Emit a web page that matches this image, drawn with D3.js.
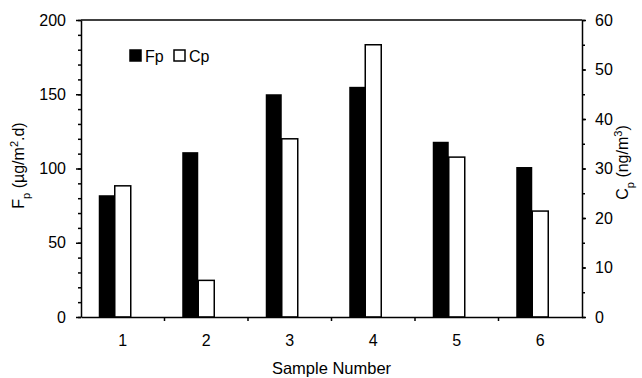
<!DOCTYPE html>
<html>
<head>
<meta charset="utf-8">
<script src="https://cdn.jsdelivr.net/npm/d3@7/dist/d3.min.js"></script>
<style>
  body { margin: 0; background: #fff; }
  svg text { font-family: "Liberation Sans", Arial, sans-serif; fill: #000; }
  .axis path, .axis line { stroke: #000; stroke-width: 1.5; }
</style>
</head>
<body>
<div id="chart"></div>
<script>
const samples = ['1', '2', '3', '4', '5', '6'];
const fpValues = [82, 111, 150, 155, 118, 101];   // µg/m2.d, left axis
const cpValues = [26.5, 7.4, 36, 55, 32.3, 21.4];  // ng/m3, right axis
const leftTicks = [0, 50, 100, 150, 200];
const rightTicks = [0, 10, 20, 30, 40, 50, 60];

const margin = { top: 20, right: 60, bottom: 61, left: 81 };
const width = 642 - margin.left - margin.right;
const height = 378 - margin.top - margin.bottom;

const svg = d3.select('#chart')
  .append('svg')
  .attr('width', 642)
  .attr('height', 378)
  .append('g')
  .attr('transform', `translate(${margin.left}, ${margin.top})`);

const xScale = d3.scaleBand()
  .domain(samples)
  .range([0, width])
  .padding(0);

const yLeft = d3.scaleLinear().domain([0, 200]).range([height, 0]);
const yRight = d3.scaleLinear().domain([0, 60]).range([height, 0]);

const barW = 16;

// frame top line
svg.append('line')
  .attr('x1', 0).attr('x2', width)
  .attr('y1', 0).attr('y2', 0)
  .attr('stroke', '#000').attr('stroke-width', 1.5);

// bars
svg.selectAll('rect.fp')
  .data(fpValues)
  .enter()
  .append('rect')
  .attr('class', 'fp')
  .attr('x', (d, i) => xScale(samples[i]) + xScale.bandwidth() / 2 - barW * 1.5)
  .attr('y', d => yLeft(d))
  .attr('width', barW)
  .attr('height', d => height - yLeft(d))
  .attr('fill', '#000');

svg.selectAll('rect.cp')
  .data(cpValues)
  .enter()
  .append('rect')
  .attr('class', 'cp')
  .attr('x', (d, i) => xScale(samples[i]) + xScale.bandwidth() / 2 - barW / 2)
  .attr('y', d => yRight(d))
  .attr('width', barW)
  .attr('height', d => height - yRight(d))
  .attr('fill', '#fff')
  .attr('stroke', '#000')
  .attr('stroke-width', 1.5);

// left axis
svg.append('g')
  .attr('class', 'axis')
  .call(d3.axisLeft(yLeft).tickValues(d3.range(0, 201, 10)).tickSize(3).tickFormat(''))
  .select('.domain').remove();
const gl = svg.append('g')
  .attr('class', 'axis')
  .call(d3.axisLeft(yLeft).tickValues(leftTicks).tickSize(5).tickSizeOuter(0).tickPadding(10));
gl.selectAll('text').style('font-size', '16px');

// right axis
svg.append('g')
  .attr('class', 'axis')
  .attr('transform', `translate(${width}, 0)`)
  .call(d3.axisRight(yRight).tickValues(d3.range(0, 61, 5)).tickSize(3).tickFormat(''))
  .select('.domain').remove();
const gr = svg.append('g')
  .attr('class', 'axis')
  .attr('transform', `translate(${width}, 0)`)
  .call(d3.axisRight(yRight).tickValues(rightTicks).tickSize(4).tickSizeOuter(0).tickPadding(9));
gr.selectAll('text').style('font-size', '16px');

// bottom axis: ticks at band edges, labels at centers
const gx = svg.append('g')
  .attr('class', 'axis')
  .attr('transform', `translate(0, ${height})`)
  .call(d3.axisBottom(xScale).tickSize(0).tickSizeOuter(0).tickPadding(18));
gx.selectAll('text').style('font-size', '16px');
svg.append('g')
  .selectAll('line')
  .data(samples.slice(1))
  .enter()
  .append('line')
  .attr('x1', d => xScale(d)).attr('x2', d => xScale(d))
  .attr('y1', height).attr('y2', height + 4)
  .attr('stroke', '#000').attr('stroke-width', 1.5);

// axis titles
svg.append('text')
  .attr('x', width / 2)
  .attr('y', height + 57)
  .attr('text-anchor', 'middle')
  .style('font-size', '16.5px')
  .text('Sample Number');

const tl = svg.append('text')
  .attr('transform', `translate(${-57}, ${height / 2 - 3}) rotate(-90)`)
  .attr('text-anchor', 'middle')
  .style('font-size', '16px');
tl.append('tspan').text('F');
tl.append('tspan').attr('baseline-shift', 'sub').style('font-size', '11px').text('p');
tl.append('tspan').text(' (µg/m');
tl.append('tspan').attr('baseline-shift', 'super').style('font-size', '11px').text('2');
tl.append('tspan').text('.d)');

const tr = svg.append('text')
  .attr('transform', `translate(${width + 46}, ${height / 2 - 6}) rotate(-90)`)
  .attr('text-anchor', 'middle')
  .style('font-size', '16px');
tr.append('tspan').text('C');
tr.append('tspan').attr('baseline-shift', 'sub').style('font-size', '11px').text('p');
tr.append('tspan').text(' (ng/m');
tr.append('tspan').attr('baseline-shift', 'super').style('font-size', '11px').text('3');
tr.append('tspan').text(')');

// legend
const legend = [{ name: 'Fp', fill: '#000' }, { name: 'Cp', fill: '#fff' }];
const lg = svg.append('g').attr('transform', 'translate(49, 30)');
const item = lg.selectAll('g')
  .data(legend)
  .enter()
  .append('g')
  .attr('transform', (d, i) => `translate(${i * 44}, 0)`);
item.append('rect')
  .attr('width', 11).attr('height', 11)
  .attr('fill', d => d.fill)
  .attr('stroke', '#000').attr('stroke-width', 1.5);
item.append('text')
  .attr('x', 15).attr('y', 12)
  .style('font-size', '16px')
  .text(d => d.name);
</script>
</body>
</html>
